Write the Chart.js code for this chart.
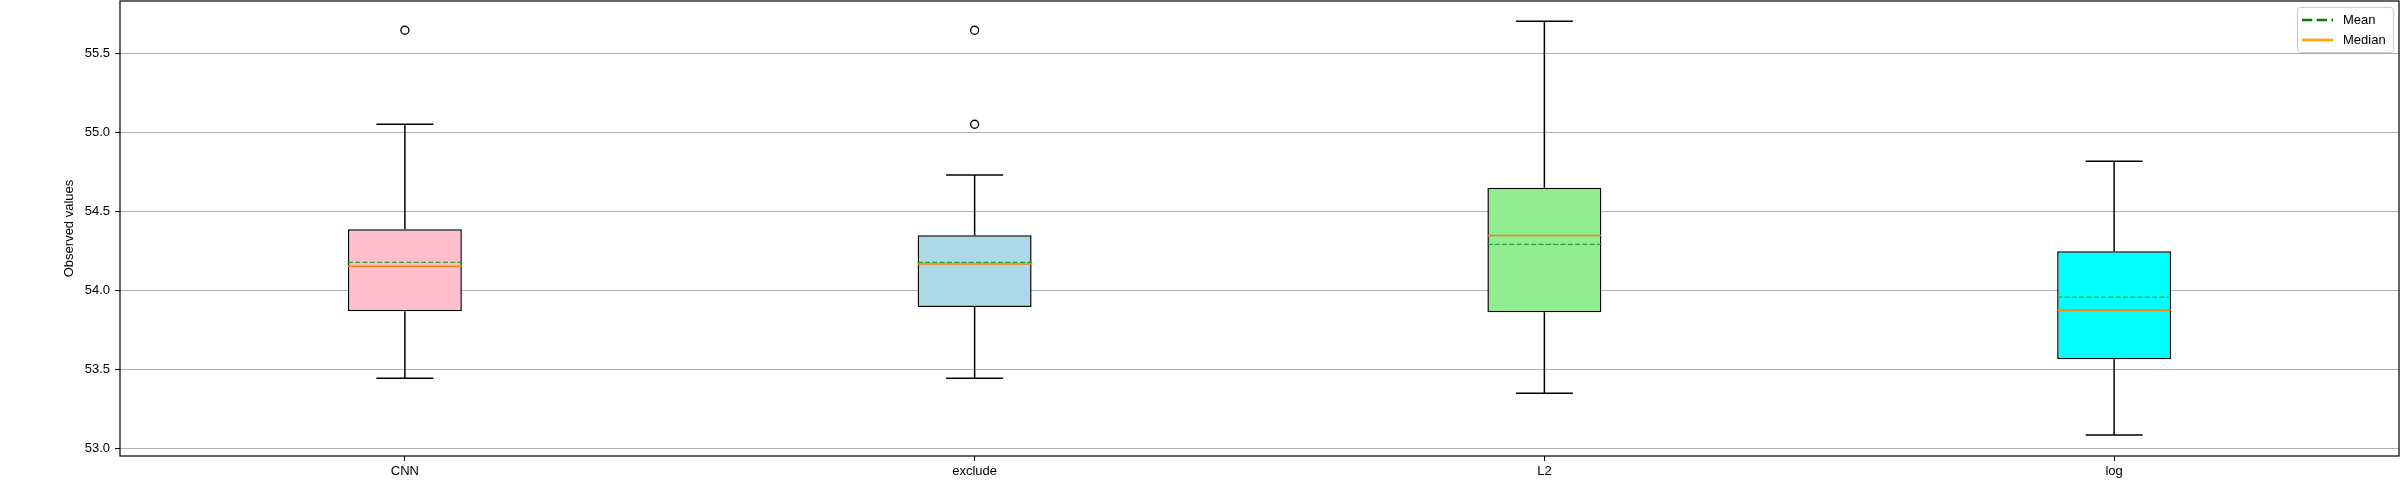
<!DOCTYPE html>
<html>
<head>
<meta charset="utf-8">
<script src="https://cdn.jsdelivr.net/npm/chart.js@4.4.1/dist/chart.umd.min.js"></script>
<style>
  html, body { margin: 0; padding: 0; background: #fff; }
  #chart { display: block; }
</style>
</head>
<body>
<canvas id="chart" width="2400" height="480"></canvas>
<script>
// Box plot values
const categories = ['CNN', 'exclude', 'L2', 'log'];
const whiskerLow = [53.443, 53.443, 53.348, 53.084];
const q1 = [53.867, 53.894, 53.861, 53.563];
const medians = [54.152, 54.166, 54.346, 53.873];
const means = [54.177, 54.177, 54.291, 53.956];
const q3 = [54.386, 54.348, 54.649, 54.247];
const whiskerHigh = [55.051, 54.730, 55.703, 54.816];
const outliers = [[55.646], [55.646, 55.051], [], []];
const yTicks = [53.0, 53.5, 54.0, 54.5, 55.0, 55.5];

const boxColors = ['#ffc0cb', '#add8e6', '#90ee90', '#00ffff'];
const BOX_HALF = 0.1;   // box half width in x units
const CAP_HALF = 0.05;  // whisker cap half width

Chart.defaults.font.family = "'Liberation Sans', Arial, sans-serif";
Chart.defaults.font.size = 13;
Chart.defaults.color = '#000';

// helper: build broken line segments (null gaps) from a per-box function
function segments(fn) {
  const pts = [];
  categories.forEach((c, i) => {
    fn(i).forEach(seg => {
      pts.push(seg[0], seg[1], { x: i + 1, y: null });
    });
  });
  return pts;
}

const whiskerPts = segments(i => [
  [{ x: i + 1, y: q1[i] }, { x: i + 1, y: whiskerLow[i] }],
  [{ x: i + 1, y: q3[i] }, { x: i + 1, y: whiskerHigh[i] }]
]);
const capPts = segments(i => [
  [{ x: i + 1 - CAP_HALF, y: whiskerLow[i] }, { x: i + 1 + CAP_HALF, y: whiskerLow[i] }],
  [{ x: i + 1 - CAP_HALF, y: whiskerHigh[i] }, { x: i + 1 + CAP_HALF, y: whiskerHigh[i] }]
]);
const medianPts = segments(i => [
  [{ x: i + 1 - BOX_HALF, y: medians[i] }, { x: i + 1 + BOX_HALF, y: medians[i] }]
]);
const meanPts = segments(i => [
  [{ x: i + 1 - BOX_HALF, y: means[i] }, { x: i + 1 + BOX_HALF, y: means[i] }]
]);
const outlierPts = [];
outliers.forEach((list, i) => list.forEach(v => outlierPts.push({ x: i + 1, y: v })));

const lineDefaults = {
  type: 'line',
  showLine: true,
  spanGaps: false,
  fill: false,
  pointRadius: 0,
  borderCapStyle: 'butt'
};

// frame around the plot area (matplotlib spines)
const framePlugin = {
  id: 'frame',
  afterDraw(chart) {
    const { ctx, chartArea: a } = chart;
    ctx.save();
    ctx.strokeStyle = '#000';
    ctx.lineWidth = 1.2;
    ctx.strokeRect(a.left, a.top, a.right - a.left, a.bottom - a.top);
    ctx.restore();
  }
};

// legend in the upper right corner of the plot area
const legendPlugin = {
  id: 'boxLegend',
  afterDraw(chart) {
    const { ctx, chartArea: a } = chart;
    const w = 96, h = 45;
    const x = a.right - 6 - w, y = a.top + 6;
    ctx.save();
    ctx.beginPath();
    ctx.roundRect(x + 0.5, y + 0.5, w, h, 3);
    ctx.fillStyle = 'rgba(255,255,255,0.8)';
    ctx.fill();
    ctx.strokeStyle = '#cccccc';
    ctx.lineWidth = 1;
    ctx.stroke();

    const items = [
      { label: 'Mean', color: '#008000', dash: [10.3, 4.4] },
      { label: 'Median', color: '#ffa500', dash: [] }
    ];
    ctx.font = "13px 'Liberation Sans', Arial, sans-serif";
    ctx.textBaseline = 'middle';
    items.forEach((it, k) => {
      const cy = y + 13 + k * 20;
      ctx.beginPath();
      ctx.setLineDash(it.dash);
      ctx.strokeStyle = it.color;
      ctx.lineWidth = 2.7;
      ctx.moveTo(x + 5, cy);
      ctx.lineTo(x + 36, cy);
      ctx.stroke();
      ctx.setLineDash([]);
      ctx.fillStyle = '#000';
      ctx.fillText(it.label, x + 46, cy);
    });
    ctx.restore();
  }
};

new Chart(document.getElementById('chart'), {
  type: 'bar',
  data: {
    datasets: [
      Object.assign({}, lineDefaults, {
        label: 'Mean', data: meanPts, borderColor: '#2ca02c',
        borderWidth: 1.3, borderDash: [5.1, 2.2], order: 1
      }),
      Object.assign({}, lineDefaults, {
        label: 'Median', data: medianPts, borderColor: '#ff7f0e',
        borderWidth: 1.5, order: 2
      }),
      Object.assign({}, lineDefaults, {
        label: 'Caps', data: capPts, borderColor: '#000',
        borderWidth: 1.5, order: 3
      }),
      Object.assign({}, lineDefaults, {
        label: 'Whiskers', data: whiskerPts, borderColor: '#000',
        borderWidth: 1.5, order: 4
      }),
      {
        type: 'scatter',
        label: 'Outliers',
        data: outlierPts,
        pointStyle: 'circle',
        pointRadius: 4,
        pointBorderWidth: 1.3,
        pointBorderColor: '#000',
        pointBackgroundColor: 'rgba(0,0,0,0)',
        order: 5
      },
      {
        type: 'bar',
        label: 'Boxes',
        data: categories.map((c, i) => ({ x: i + 1, y: [q1[i], q3[i]] })),
        backgroundColor: boxColors,
        borderColor: '#000',
        borderWidth: 1.5,
        borderSkipped: false,
        barPercentage: BOX_HALF * 2,
        categoryPercentage: 1,
        order: 10
      }
    ]
  },
  options: {
    responsive: false,
    animation: false,
    devicePixelRatio: 1,
    layout: { autoPadding: false, padding: { top: 1, right: 1, left: 0, bottom: 0 } },
    plugins: {
      legend: { display: false },
      tooltip: { enabled: false }
    },
    scales: {
      x: {
        type: 'linear',
        min: 0.5,
        max: 4.5,
        offset: false,
        afterBuildTicks: axis => {
          axis.ticks = categories.map((c, i) => ({ value: i + 1 }));
        },
        afterFit: axis => {
          axis.height = 24;
          axis.paddingLeft = 0;
          axis.paddingRight = 0;
        },
        ticks: {
          padding: 3,
          maxRotation: 0,
          callback: v => categories[Math.round(v) - 1]
        },
        grid: {
          offset: false,
          drawOnChartArea: false,
          drawTicks: true,
          tickLength: 5,
          tickColor: '#000',
          tickWidth: 1
        },
        border: { display: false }
      },
      y: {
        type: 'linear',
        min: 52.951,
        max: 55.831,
        afterBuildTicks: axis => {
          axis.ticks = yTicks.map(v => ({ value: v }));
        },
        afterFit: axis => {
          axis.width = 120;
          axis.paddingTop = 0;
          axis.paddingBottom = 0;
        },
        ticks: {
          padding: 5,
          callback: v => v.toFixed(1)
        },
        grid: {
          color: '#b0b0b0',
          lineWidth: 1.1,
          drawTicks: true,
          tickLength: 5,
          tickColor: '#000',
          tickWidth: 1
        },
        border: { display: false },
        title: {
          display: true,
          text: 'Observed values',
          font: { size: 13 },
          padding: { top: 62, bottom: 0 }
        }
      }
    }
  },
  plugins: [framePlugin, legendPlugin]
});
</script>
</body>
</html>
